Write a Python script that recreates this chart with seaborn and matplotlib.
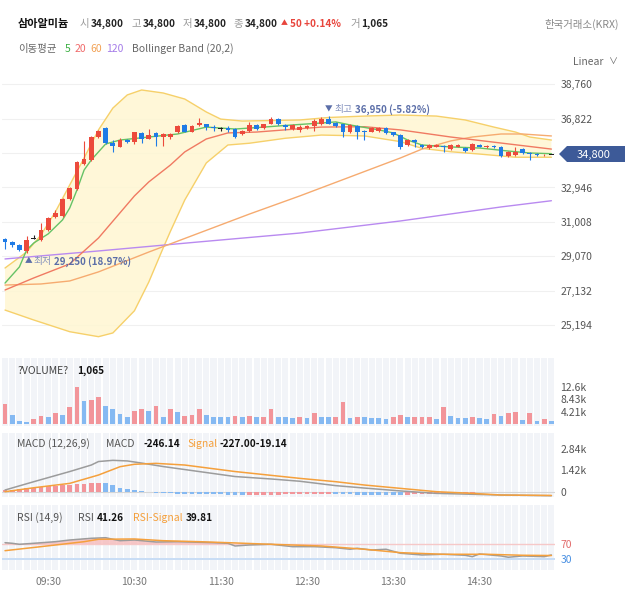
import numpy as np
import seaborn as sns
import matplotlib
matplotlib.use('Agg')
from matplotlib import pyplot as plt
from matplotlib.patches import Polygon

# ---- 5분봉 데이터 ----
opens = [30050, 29850, 29700, 29350, 30050, 30000, 30550, 31300, 31350, 32300,
         32850, 34250, 34500, 35800, 36300, 35450, 35250, 35600, 35500, 36000,
         35700, 36000, 35800, 35800, 36050, 36450, 36100, 36450, 36500, 36350,
         36250, 36300, 36250, 35950, 36150, 36450, 36300, 36550, 36800, 36450,
         36250, 36200, 36300, 36400, 36500, 36800, 36600, 36500, 36050, 36400,
         36150, 36100, 36150, 36300, 36050, 35900, 35350, 35600, 35350, 35150,
         35250, 35300, 35100, 35250, 35150, 35050, 35350, 35200, 35300, 35250,
         34700, 34750, 35100, 34900, 34850, 34750, 34800]
highs = [30100, 29950, 29750, 30200, 30250, 30950, 31300, 31700, 32350, 32950,
         34450, 35550, 35850, 36200, 36350, 35600, 35750, 35700, 36100, 36050,
         36250, 36100, 36000, 36000, 36450, 36500, 36450, 36850, 36550, 36450,
         36350, 36400, 36300, 36200, 36650, 36500, 36550, 36900, 36850, 36550,
         36500, 36450, 36450, 36800, 36900, 36950, 36650, 36550, 36500, 36450,
         36200, 36350, 36350, 36350, 36100, 35950, 35650, 35650, 35400, 35400,
         35400, 35350, 35400, 35400, 35200, 35450, 35400, 35350, 35350, 35300,
         35000, 35200, 35150, 34950, 34900, 34850, 34800]
lows = [29500, 29600, 29350, 29250, 30050, 29950, 30500, 31250, 31300, 32250,
        32800, 34200, 34450, 35750, 35400, 34950, 35200, 35450, 35400, 35450,
        35650, 35300, 35300, 35700, 36000, 36050, 36050, 36400, 36200, 36150,
        36150, 36100, 35750, 35900, 36100, 36200, 36250, 36500, 36450, 36200,
        36200, 36100, 36250, 36150, 36450, 36500, 36350, 35800, 36000, 35700,
        35600, 36050, 36100, 35950, 35850, 35100, 35300, 35200, 35150, 35100,
        35200, 34950, 35050, 35200, 34950, 35000, 35200, 35150, 35150, 34650,
        34650, 34700, 34850, 34500, 34700, 34700, 34800]
closes = [29900, 29700, 29400, 30000, 30050, 30550, 31250, 31500, 32300, 32900,
          34400, 34550, 35800, 36150, 35450, 35300, 35600, 35500, 36050, 35650,
          35900, 35800, 35950, 35950, 36400, 36100, 36400, 36600, 36350, 36300,
          36250, 36200, 35800, 36150, 36450, 36250, 36500, 36800, 36500, 36350,
          36450, 36350, 36400, 36700, 36800, 36550, 36400, 36100, 36450, 36100,
          36050, 36300, 36300, 36000, 35900, 35250, 35600, 35500, 35200, 35350,
          35350, 35200, 35350, 35350, 35000, 35400, 35250, 35300, 35200, 34700,
          34950, 34950, 34900, 34850, 34750, 34800, 34800]

# 이동평균 / 볼린저밴드 (봉 번호, 가격)
ma5_idx = [0, 2, 3, 4, 6, 8, 9, 10, 11, 12, 13, 14, 16, 20, 24, 28, 32, 36, 40, 44,
           46, 48, 52, 54, 56, 58, 62, 66, 70, 73, 76]
ma5 = [27560, 28470, 29420, 29820, 30330, 31120, 31790, 32800, 33930, 34500, 34950,
       35400, 35620, 35790, 35960, 36350, 36240, 36350, 36470, 36580, 36640, 36470,
       36190, 36020, 35620, 35340, 35230, 35170, 35000, 34890, 34850]
ma20_idx = [0, 4, 9, 13, 18, 20, 23, 25, 28, 31, 35, 44, 50, 55, 62, 69, 76]
ma20 = [27170, 27850, 28640, 30100, 32470, 33260, 34210, 34950, 35680, 36020, 36070,
        36350, 36370, 36190, 35790, 35450, 35110]
ma60_idx = [0, 5, 9, 13, 20, 27, 34, 41, 48, 55, 58, 62, 65, 69, 72, 76]
ma60 = [27450, 27510, 27680, 28190, 29310, 30380, 31450, 32470, 33540, 34610, 35110,
        35570, 35790, 35960, 35960, 35850]
ma120_idx = [0, 13, 27, 41, 55, 69, 76]
ma120 = [28920, 29370, 29880, 30380, 31060, 31850, 32200]
bb_up_idx = [0, 3, 5, 7, 9, 11, 13, 15, 17, 19, 22, 25, 28, 30, 33, 41, 45, 50, 55, 60,
             64, 68, 71, 73, 76]
bb_up = [28410, 29310, 30270, 31570, 33090, 34610, 36190, 37420, 38160, 38440, 38270,
         37930, 37200, 36800, 36690, 36750, 36890, 36970, 37030, 36970, 36750, 36350,
         36070, 35790, 35620]
bb_lo_idx = [0, 4, 9, 13, 15, 18, 20, 22, 23, 25, 28, 31, 34, 39, 44, 50, 55, 58, 62,
             66, 71, 76]
bb_lo = [26040, 25480, 24820, 24540, 24750, 26000, 27620, 29540, 30470, 32240, 34330,
         35340, 35440, 35720, 35900, 35850, 35530, 35150, 34960, 34830, 34650, 34650]

# 거래량 (1 = 빨강, 0 = 파랑)
volume = [6730, 3080, 1140, 800, 1710, 2740, 2510, 3650, 3080, 5930,
          12540, 7980, 8210, 9230, 6160, 5020, 3310, 2390, 4560, 5130,
          4560, 6160, 2390, 5020, 4220, 2850, 3080, 5020, 3080, 2390,
          2280, 2280, 2740, 2510, 2740, 2280, 2280, 5130, 2390, 2280,
          1940, 2390, 1940, 3650, 2510, 2510, 2510, 7410, 2170, 2510,
          2510, 2170, 2170, 1710, 2280, 3080, 2280, 2510, 2510, 2510,
          1710, 5930, 2740, 2170, 1940, 2390, 2170, 1710, 3310, 2850,
          3650, 3990, 1370, 3650, 1030, 1710, 1065]
vol_up = [1, 0, 0, 0, 1, 1, 0, 1, 0, 1,
          1, 0, 1, 1, 0, 0, 0, 0, 1, 1,
          0, 1, 0, 1, 0, 1, 1, 1, 0, 0,
          0, 0, 1, 0, 1, 0, 1, 1, 0, 0,
          0, 1, 0, 1, 0, 0, 1, 1, 0, 1,
          0, 0, 0, 0, 1, 1, 0, 1, 1, 1,
          0, 1, 0, 0, 0, 1, 0, 0, 1, 0,
          1, 1, 0, 1, 0, 1, 0]

# MACD
macd_idx = [0, 4, 9, 12, 13, 15, 17, 19, 22, 27, 32, 37, 41, 46, 50, 55, 60, 65, 69, 76]
macd = [130, 680, 1350, 1780, 2010, 2090, 2050, 1910, 1680, 1350, 1020, 860, 710, 420,
        260, 70, -90, -150, -200, -246.14]
sig_idx = [0, 4, 9, 13, 16, 18, 21, 25, 32, 37, 41, 46, 50, 55, 60, 65, 69, 76]
signal = [20, 280, 570, 1120, 1670, 1830, 1890, 1780, 1350, 1100, 900, 680, 460, 240,
          20, -90, -200, -227.00]
hist = [110, 150, 200, 240, 290, 330, 370, 420, 440, 480, 530, 550, 590, 620,
        590, 440, 290, 220, 130, 40, -20,
        -40, -60, -80, -100, -110, -120, -130, -140, -150, -160, -170, -180, -190,
        -185, -180, -175, -170, -165, -160, -155, -150, -145, -140, -135, -130,
        -140, -150, -160, -170, -175, -180, -185, -190, -195, -200,
        -180, -160, -140, -120, -100, -80, -60, -50, -40,
        -35, -30, -28, -26, -24, -22, -21, -20, -19.5, -19.3, -19.2, -19.14]

# RSI
rsi_idx = [0, 1, 2, 4, 7, 9, 12, 14, 15, 16, 18, 21, 24, 29, 31, 32, 34, 37, 40, 43,
           46, 48, 49, 51, 53, 55, 58, 61, 64, 65, 66, 69, 70, 72, 75, 76]
rsi = [73.4, 71.8, 69.2, 71.8, 76.0, 80.4, 84.9, 86.4, 82.3, 78.6, 80.4, 75.2, 76.0,
       73.4, 71.8, 64.8, 67.4, 69.2, 63.0, 63.0, 60.3, 56.2, 58.8, 54.3, 56.2, 45.7,
       41.3, 43.1, 40.5, 36.9, 43.9, 38.7, 35.3, 38.7, 36.9, 41.26]
rsi_sig_idx = [0, 5, 11, 13, 18, 22, 27, 31, 37, 44, 50, 55, 61, 67, 72, 76]
rsi_sig = [52.5, 63.0, 76.0, 82.3, 83.1, 78.6, 76.0, 73.4, 69.2, 64.8, 56.2, 47.3,
           43.1, 43.1, 40.5, 39.81]

price_ticks = [25194, 27132, 29070, 31008, 32946, 34884, 36822, 38760]
time_pos = [6, 18, 30, 42, 54, 66]
time_labels = ['09:30', '10:30', '11:30', '12:30', '13:30', '14:30']

# ---- 스타일 ----
sns.set_theme(style='white')
plt.rcParams['font.family'] = ['Noto Sans CJK KR', 'DejaVu Sans']
plt.rcParams['axes.unicode_minus'] = False

RED, BLUE = '#ec4a3c', '#1f7be6'
VRED, VBLUE = '#f2959a', '#85b9f2'
GRAY = '#666666'

W, H = 629, 605
fig = plt.figure(figsize=(W / 100, H / 100), dpi=100)


def box(y0, y1, x0=2, x1=555):
    return [x0 / W, 1 - y1 / H, (x1 - x0) / W, (y1 - y0) / H]


ax = fig.add_axes(box(72, 350))
axv = fig.add_axes(box(358, 426), sharex=ax)
axm = fig.add_axes(box(433, 497), sharex=ax)
axr = fig.add_axes(box(505, 570), sharex=ax)

n = len(closes)
idx = np.arange(n)

for a in (ax, axv, axm, axr):
    for s in a.spines.values():
        s.set_visible(False)
    a.yaxis.tick_right()
    a.tick_params(axis='y', length=0, pad=4, labelsize=7.5, labelcolor='#555')
    a.tick_params(axis='x', length=0, labelbottom=False)
    a.set_facecolor('white')

# 하단 패널의 세로 줄무늬
for a in (axv, axm, axr):
    for i in idx:
        a.axvspan(i - 0.42, i + 0.42, color='#f2f4f8', lw=0, zorder=0)

# ---- 가격 패널 ----
ax.set_ylim(23790, 39453)
ax.set_yticks(price_ticks)
ax.set_yticklabels(['' if p == 34884 else f'{p:,}' for p in price_ticks])
ax.grid(axis='y', color='#f0f0f0', lw=0.8)

band_x = list(bb_up_idx) + list(bb_lo_idx[::-1])
band_y = list(bb_up) + list(bb_lo[::-1])
ax.fill(band_x, band_y, color='#fff6d2', alpha=0.85, lw=0, zorder=1)
sns.lineplot(x=bb_up_idx, y=bb_up, ax=ax, color='#f6d06a', lw=1, zorder=2)
sns.lineplot(x=bb_lo_idx, y=bb_lo, ax=ax, color='#f6d06a', lw=1, zorder=2)
sns.lineplot(x=ma120_idx, y=ma120, ax=ax, color='#b98af0', lw=1, zorder=3)
sns.lineplot(x=ma60_idx, y=ma60, ax=ax, color='#f6ab70', lw=1, zorder=3)
sns.lineplot(x=ma20_idx, y=ma20, ax=ax, color='#f07a62', lw=1, zorder=3)
sns.lineplot(x=ma5_idx, y=ma5, ax=ax, color='#66c266', lw=1, zorder=3)

cols = [RED if c > o else (BLUE if c < o else '#222222') for o, c in zip(opens, closes)]
ax.vlines(idx, lows, highs, colors=cols, lw=0.8, zorder=4)
bottoms = [min(o, c) for o, c in zip(opens, closes)]
heights = [max(abs(c - o), 45) for o, c in zip(opens, closes)]
ax.bar(idx, heights, bottom=bottoms, width=0.66, color=cols, lw=0, zorder=5)

# 최고 / 최저 표시
hi = int(np.argmax(highs))
lo = int(np.argmin(lows))
mark = dict(textcoords='offset pixels', va='center', fontsize=7, color='#5b6ea8')
ax.annotate('▼', xy=(hi, highs[hi]), xytext=(0, 7), ha='center',
            **{**mark, 'fontsize': 5.5})
ax.annotate('최고', xy=(hi, highs[hi]), xytext=(6, 7), ha='left',
            **{**mark, 'color': '#8290bd'})
ax.annotate(f'{highs[hi]:,} (-5.82%)', xy=(hi, highs[hi]), xytext=(26, 7), ha='left',
            weight='bold', **mark)
ax.annotate('▲', xy=(lo, lows[lo]), xytext=(2, -8), ha='center',
            **{**mark, 'fontsize': 5.5})
ax.annotate('최저', xy=(lo, lows[lo]), xytext=(7, -8), ha='left',
            **{**mark, 'color': '#8290bd'})
ax.annotate(f'{lows[lo]:,} (18.97%)', xy=(lo, lows[lo]), xytext=(27, -8), ha='left',
            weight='bold', **mark)

# ---- 거래량 ----
axv.set_ylim(-684, 22572)
axv.bar(idx, volume, width=0.66, color=[VRED if u else VBLUE for u in vol_up], lw=0, zorder=2)
axv.set_yticks([4210, 8430, 12600])
axv.set_yticklabels(['4.21k', '8.43k', '12.6k'])

# ---- MACD ----
axm.set_ylim(-330, 3894)
axm.axhline(0, color='#d6d6d6', lw=0.8, zorder=1)
hcols = [VRED if (i == 0 or hist[i] > hist[i - 1]) else VBLUE for i in range(n)]
axm.bar(idx, hist, width=0.66, color=hcols, lw=0, zorder=2)
sns.lineplot(x=macd_idx, y=macd, ax=axm, color='#9c9c9c', lw=1.1, zorder=3)
sns.lineplot(x=sig_idx, y=signal, ax=axm, color='#f5a03c', lw=1.1, zorder=3)
axm.set_yticks([0, 1420, 2840])
axm.set_yticklabels(['0', '1.42k', '2.84k'])

# ---- RSI ----
axr.set_ylim(2.0, 171.9)
axr.axhline(70, color='#f6c8c8', lw=1, zorder=1)
axr.axhline(30, color='#c8ddf5', lw=1.4, zorder=1)
rsi_a = np.array(rsi)
axr.fill_between(rsi_idx, rsi_a, 70, where=rsi_a > 70, interpolate=True,
                 color='#f7b3b3', alpha=0.7, lw=0, zorder=2)
sns.lineplot(x=rsi_idx, y=rsi, ax=axr, color='#9c9c9c', lw=1.1, zorder=3)
sns.lineplot(x=rsi_sig_idx, y=rsi_sig, ax=axr, color='#f5a03c', lw=1.1, zorder=3)
axr.set_yticks([30, 70])
axr.set_yticklabels(['30', '70'])
axr.get_yticklabels()[0].set_color('#4a90e2')
axr.get_yticklabels()[1].set_color('#e26a6a')
axr.set_xticks(time_pos)
axr.set_xticklabels(time_labels)
axr.tick_params(axis='x', labelbottom=True, labelsize=7.5, labelcolor='#777', pad=5)

for a in (ax, axv, axm, axr):
    a.set_xlabel('')
    a.set_ylabel('')
    a.set_xlim(-0.42, 76.5)


# ---- 글자 ----
def t(x, y, s, **kw):
    kw.setdefault('fontsize', 7.5)
    kw.setdefault('color', '#222222')
    fig.text(x / W, 1 - y / H, s, va='center', ha=kw.pop('ha', 'left'), **kw)


t(18, 24, '삼아알미늄', weight='bold', fontsize=8, color='#111111')
for lx, label, vx in [(80, '시', 91), (132, '고', 143), (183, '저', 194), (233, '종', 245)]:
    t(lx, 24, label, color='#999999')
    t(vx, 24, '34,800', weight='bold', fontsize=7.2)
t(281, 23, '▲', color='#e8453c', fontsize=5)
t(290, 24, '50 +0.14%', color='#e8453c', weight='bold', fontsize=7.2)
t(350, 24, '거', color='#999999')
t(361, 24, '1,065', weight='bold', fontsize=7.2)
t(619, 24, '한국거래소(KRX)', ha='right', color='#888888')

t(18, 49, '이동평균', color=GRAY)
t(65, 49, '5', color='#3cb043')
t(75, 49, '20', color='#f06a6a')
t(90, 49, '60', color='#f2a255')
t(106, 49, '120', color='#a47be8')
t(132, 49, 'Bollinger Band (20,2)', color=GRAY)
t(573, 62, 'Linear', color=GRAY)
t(609, 62, '∨', color=GRAY, fontsize=6.5)

t(18, 371, '?VOLUME?', color='#444444')
t(77, 371, '1,065', weight='bold', color='#111111', fontsize=7.2)
t(17, 444, 'MACD (12,26,9)', color='#555555')
t(106, 444, 'MACD', color='#555555')
t(143, 444, '-246.14', weight='bold', color='#111111', fontsize=7.2)
t(187, 444, 'Signal', color='#f5a03c')
t(220, 444, '-227.00-19.14', weight='bold', color='#111111', fontsize=7.2)
t(17, 518, 'RSI (14,9)', color='#555555')
t(78, 518, 'RSI', color='#555555')
t(97, 518, '41.26', weight='bold', color='#111111', fontsize=7.2)
t(133, 518, 'RSI-Signal', color='#f5a03c')
t(186, 518, '39.81', weight='bold', color='#111111', fontsize=7.2)

# 현재가 태그
tag = [(559, 154), (567, 146), (625, 146), (625, 162), (567, 162)]
fig.add_artist(Polygon([(x / W, 1 - y / H) for x, y in tag], closed=True,
                       transform=fig.transFigure, fc='#3d5a98', ec='none'))
t(594, 154.5, f'{closes[-1]:,}', ha='center', color='white', fontsize=8)

fig.savefig('out.png', dpi=100)
